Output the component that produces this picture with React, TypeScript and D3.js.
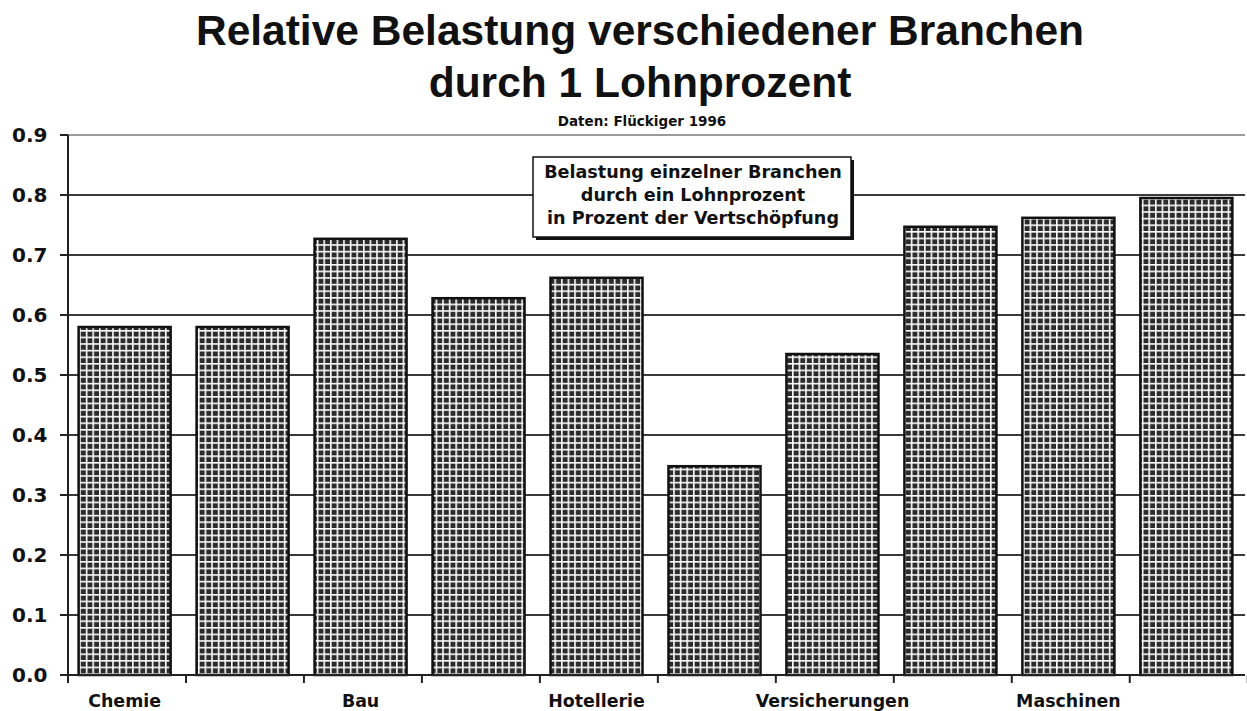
import { useEffect, useRef } from 'react';
import * as d3 from 'd3';

const CATEGORY_LABELS = ['Chemie', '', 'Bau', '', 'Hotellerie', '', 'Versicherungen', '', 'Maschinen', ''];
const VALUES = [0.58, 0.58, 0.727, 0.628, 0.662, 0.348, 0.535, 0.747, 0.762, 0.795];
const Y_TICKS = [0, 0.1, 0.2, 0.3, 0.4, 0.5, 0.6, 0.7, 0.8, 0.9];
const TITLE_LINES = ['Relative Belastung verschiedener Branchen', 'durch 1 Lohnprozent'];
const SUBTITLE = 'Daten: Flückiger 1996';
const NOTE_LINES = ['Belastung einzelner Branchen', 'durch ein Lohnprozent', 'in Prozent der Vertschöpfung'];

const FONT = '"Liberation Sans", Arial, sans-serif';
const WIDE = '"DejaVu Sans", Verdana, sans-serif';

const App = () => {
  const svgRef = useRef<SVGSVGElement>(null);

  useEffect(() => {
    const width = 1247;
    const height = 711;
    const left = 68;
    const right = 1243;
    const top = 135;
    const bottom = 675;

    const svg = d3.select(svgRef.current);
    svg.selectAll('*').remove();
    svg.attr('width', width).attr('height', height);

    svg.append('rect').attr('width', width).attr('height', height).attr('fill', '#fff');

    // crosshatch fill like the old print pattern
    const pat = svg.append('defs').append('pattern')
      .attr('id', 'grid-fill')
      .attr('patternUnits', 'userSpaceOnUse')
      .attr('width', 6.6)
      .attr('height', 6.6);
    pat.append('rect').attr('width', 6.6).attr('height', 6.6).attr('fill', '#fff');
    pat.append('rect').attr('x', 1.6).attr('y', 1.6).attr('width', 5).attr('height', 5).attr('fill', '#2b2b2b');

    const x = d3.scaleBand<number>()
      .domain(d3.range(VALUES.length))
      .range([left, right])
      .paddingInner(0.22)
      .paddingOuter(0.09);
    const step = x.step();

    const y = d3.scaleLinear().domain([0, 0.9]).range([bottom, top]);

    // gridlines
    svg.append('g')
      .selectAll('line')
      .data(Y_TICKS.filter(t => t > 0))
      .enter()
      .append('line')
      .attr('x1', left)
      .attr('x2', right + 2)
      .attr('y1', d => y(d))
      .attr('y2', d => y(d))
      .attr('stroke', d => (d === 0.9 ? '#9a9a9a' : '#3a3a3a'))
      .attr('stroke-width', 2);

    // bars
    svg.append('g')
      .selectAll('rect')
      .data(VALUES)
      .enter()
      .append('rect')
      .attr('x', (d, i) => x(i)!)
      .attr('y', d => y(d))
      .attr('width', x.bandwidth())
      .attr('height', d => bottom - y(d))
      .attr('fill', 'url(#grid-fill)')
      .attr('stroke', '#111')
      .attr('stroke-width', 2.5);

    // axes
    svg.append('line')
      .attr('x1', left).attr('x2', left)
      .attr('y1', top).attr('y2', bottom)
      .attr('stroke', '#222').attr('stroke-width', 2);
    svg.append('line')
      .attr('x1', left).attr('x2', right + 2)
      .attr('y1', bottom).attr('y2', bottom)
      .attr('stroke', '#222').attr('stroke-width', 2);

    const yAxis = svg.append('g');
    yAxis.selectAll('line')
      .data(Y_TICKS)
      .enter()
      .append('line')
      .attr('x1', left - 8).attr('x2', left)
      .attr('y1', d => y(d)).attr('y2', d => y(d))
      .attr('stroke', '#222').attr('stroke-width', 2);
    yAxis.selectAll('text')
      .data(Y_TICKS)
      .enter()
      .append('text')
      .attr('x', 12)
      .attr('y', d => y(d))
      .attr('dy', '0.36em')
      .attr('font-family', WIDE)
      .attr('font-weight', 700)
      .attr('font-size', '20px')
      .attr('fill', '#111')
      .text(d => d.toFixed(1));

    // x ticks at category boundaries
    svg.append('g')
      .selectAll('line')
      .data(d3.range(VALUES.length + 1))
      .enter()
      .append('line')
      .attr('x1', i => left + i * step)
      .attr('x2', i => left + i * step)
      .attr('y1', bottom)
      .attr('y2', bottom + 8)
      .attr('stroke', '#222')
      .attr('stroke-width', 2);

    svg.append('g')
      .selectAll('text')
      .data(CATEGORY_LABELS)
      .enter()
      .append('text')
      .attr('x', (d, i) => x(i)! + x.bandwidth() / 2)
      .attr('y', 707)
      .attr('text-anchor', 'middle')
      .attr('font-family', WIDE)
      .attr('font-weight', 700)
      .attr('font-size', '17.4px')
      .attr('fill', '#111')
      .text(d => d);

    // title
    svg.append('g')
      .selectAll('text')
      .data(TITLE_LINES)
      .enter()
      .append('text')
      .attr('x', 640)
      .attr('y', (d, i) => 45 + i * 52)
      .attr('text-anchor', 'middle')
      .attr('font-family', FONT)
      .attr('font-weight', 700)
      .attr('font-size', '42.5px')
      .attr('fill', '#111')
      .text(d => d);

    svg.append('text')
      .attr('x', 642)
      .attr('y', 126)
      .attr('text-anchor', 'middle')
      .attr('font-family', WIDE)
      .attr('font-weight', 700)
      .attr('font-size', '13.5px')
      .attr('fill', '#111')
      .text(SUBTITLE);

    // note box
    const box = { x: 533, y: 157, w: 318, h: 80 };
    svg.append('rect')
      .attr('x', box.x + 3).attr('y', box.y + 3)
      .attr('width', box.w).attr('height', box.h)
      .attr('fill', '#111');
    svg.append('rect')
      .attr('x', box.x).attr('y', box.y)
      .attr('width', box.w).attr('height', box.h)
      .attr('fill', '#fff')
      .attr('stroke', '#111')
      .attr('stroke-width', 1.5);
    svg.append('g')
      .selectAll('text')
      .data(NOTE_LINES)
      .enter()
      .append('text')
      .attr('x', box.x + box.w / 2 + 1)
      .attr('y', (d, i) => box.y + 21 + i * 23)
      .attr('text-anchor', 'middle')
      .attr('font-family', WIDE)
      .attr('font-weight', 700)
      .attr('font-size', '17.6px')
      .attr('fill', '#111')
      .text(d => d);
  }, []);

  return <svg ref={svgRef} style={{ position: 'absolute', left: 0, top: 0 }} />;
};

export default App;
